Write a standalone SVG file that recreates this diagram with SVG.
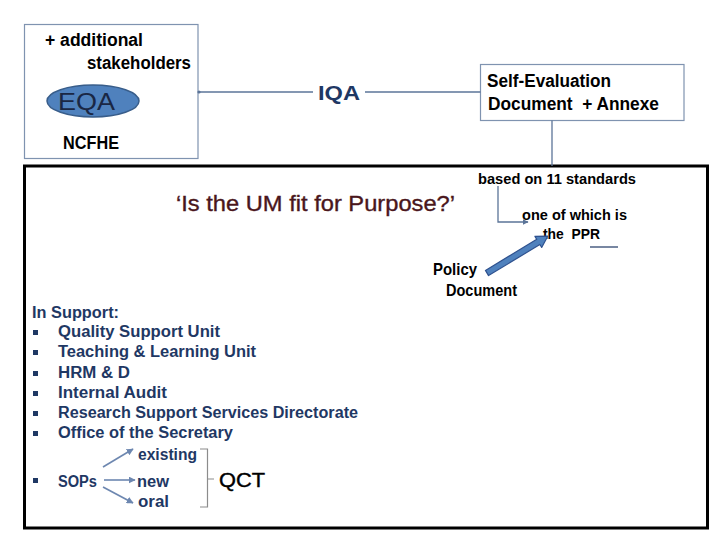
<svg xmlns="http://www.w3.org/2000/svg" width="720" height="540" viewBox="0 0 720 540">
<style>
  .t { font-family: "Liberation Sans", Arial, sans-serif; font-weight: bold; white-space: pre; }
  .blk { fill: #000000; }
  .navy { fill: #1f3864; }
  .box { fill: #ffffff; stroke: #7f93b0; stroke-width: 1.2; }
  .con { fill: none; stroke: #5b7498; stroke-width: 1.3; }
  .sop { fill: none; stroke: #6d87b0; stroke-width: 1.6; }
  .bul { fill: #1f3864; }
</style>
<defs>
  <marker id="ah" viewBox="0 0 10 10" refX="9" refY="5" markerWidth="6" markerHeight="6" orient="auto" markerUnits="userSpaceOnUse">
    <path d="M0,0 L10,5 L0,10 z" fill="#5b7498"/>
  </marker>
  <marker id="ahs" viewBox="0 0 10 10" refX="9" refY="5" markerWidth="7" markerHeight="7" orient="auto" markerUnits="userSpaceOnUse">
    <path d="M0,0 L10,5 L0,10 z" fill="#6d87b0"/>
  </marker>
</defs>
<rect width="720" height="540" fill="#ffffff"/>

<g id="main-box">
  <rect x="24.5" y="166" width="683" height="362" fill="none" stroke="#000000" stroke-width="3"/>
</g>

<g id="ncfhe">
  <rect class="box" x="24.5" y="24.5" width="173.5" height="134"/>
  <text class="t blk" x="45" y="46" font-size="17.5" textLength="98" lengthAdjust="spacingAndGlyphs">+ additional</text>
  <text class="t blk" x="87" y="69" font-size="17.5" textLength="104" lengthAdjust="spacingAndGlyphs">stakeholders</text>
  <ellipse cx="93" cy="101" rx="46" ry="16" fill="#4f81bd" stroke="#385d8a" stroke-width="1.5"/>
  <text x="58" y="110" font-family="'Liberation Sans', Arial, sans-serif" font-size="23" fill="#1a2744" textLength="57" lengthAdjust="spacingAndGlyphs">EQA</text>
  <text class="t blk" x="63" y="149" font-size="17.5" textLength="56" lengthAdjust="spacingAndGlyphs">NCFHE</text>
</g>

<g id="iqa">
  <text class="t navy" x="318" y="100" font-size="21" textLength="42" lengthAdjust="spacingAndGlyphs">IQA</text>
</g>

<g id="sed">
  <rect class="box" x="480.5" y="64.5" width="203.5" height="56"/>
  <text class="t blk" x="487" y="87" font-size="17.5" textLength="124" lengthAdjust="spacingAndGlyphs">Self-Evaluation</text>
  <text class="t blk" x="488" y="110" font-size="17.5" textLength="171" lengthAdjust="spacingAndGlyphs">Document  + Annexe</text>
</g>

<g id="standards">
  <text class="t blk" x="478" y="184" font-size="15" textLength="158" lengthAdjust="spacingAndGlyphs">based on 11 standards</text>
</g>

<g id="ppr">
  <text class="t blk" x="522" y="220" font-size="15" textLength="105" lengthAdjust="spacingAndGlyphs">one of which is</text>
  <text class="t blk" x="543" y="239" font-size="15" textLength="57" lengthAdjust="spacingAndGlyphs">the  PPR</text>
  <line x1="590" y1="247" x2="618" y2="247" stroke="#1f3864" stroke-width="1.2"/>
</g>

<g id="policy">
  <text class="t blk" x="433" y="275" font-size="16.5" textLength="44" lengthAdjust="spacingAndGlyphs">Policy</text>
  <text class="t blk" x="446" y="296" font-size="16.5" textLength="71" lengthAdjust="spacingAndGlyphs">Document</text>
</g>

<g id="question">
  <text x="176" y="211" font-family="'Liberation Sans', Arial, sans-serif" font-size="21.5" fill="#4a161c" stroke="#4a161c" stroke-width="0.35" textLength="279" lengthAdjust="spacingAndGlyphs">‘Is the UM fit for Purpose?’</text>
</g>

<g id="support">
  <text class="t navy" x="32" y="318" font-size="16" textLength="87" lengthAdjust="spacingAndGlyphs">In Support:</text>
  <rect class="bul" x="33" y="330" width="5" height="5"/>
  <text class="t navy" x="58" y="337" font-size="16" textLength="162" lengthAdjust="spacingAndGlyphs">Quality Support Unit</text>
  <rect class="bul" x="33" y="350" width="5" height="5"/>
  <text class="t navy" x="58" y="357" font-size="16" textLength="198" lengthAdjust="spacingAndGlyphs">Teaching &amp; Learning Unit</text>
  <rect class="bul" x="33" y="371" width="5" height="5"/>
  <text class="t navy" x="58" y="378" font-size="16" textLength="72" lengthAdjust="spacingAndGlyphs">HRM &amp; D</text>
  <rect class="bul" x="33" y="391" width="5" height="5"/>
  <text class="t navy" x="58" y="398" font-size="16" textLength="109" lengthAdjust="spacingAndGlyphs">Internal Audit</text>
  <rect class="bul" x="33" y="411" width="5" height="5"/>
  <text class="t navy" x="58" y="418" font-size="16" textLength="300" lengthAdjust="spacingAndGlyphs">Research Support Services Directorate</text>
  <rect class="bul" x="33" y="431" width="5" height="5"/>
  <text class="t navy" x="58" y="438" font-size="16" textLength="175" lengthAdjust="spacingAndGlyphs">Office of the Secretary</text>
</g>

<g id="sops">
  <rect class="bul" x="33" y="478" width="5" height="5"/>
  <text class="t navy" x="58" y="487" font-size="16" textLength="39" lengthAdjust="spacingAndGlyphs">SOPs</text>
  <text class="t navy" x="138" y="460" font-size="16" textLength="59" lengthAdjust="spacingAndGlyphs">existing</text>
  <text class="t navy" x="137" y="487" font-size="16" textLength="32" lengthAdjust="spacingAndGlyphs">new</text>
  <text class="t navy" x="138" y="507" font-size="16" textLength="31" lengthAdjust="spacingAndGlyphs">oral</text>
</g>

<g id="qct">
  <path d="M200,449 L207.5,449 L207.5,507 L200,507 M207.5,479 L214,479" fill="none" stroke="#8c8c8c" stroke-width="1.2"/>
  <text x="219" y="487" font-family="'Liberation Sans', Arial, sans-serif" font-size="21" fill="#000000" stroke="#000000" stroke-width="0.4" textLength="46" lengthAdjust="spacingAndGlyphs">QCT</text>
</g>

<g id="connectors">
  <line class="con" x1="198" y1="92" x2="313" y2="92"/>
  <circle cx="199" cy="92" r="1.6" fill="#5b7498"/>
  <line class="con" x1="365" y1="92" x2="480.5" y2="92"/>
  <line class="con" x1="552" y1="120.5" x2="552" y2="166"/>
  <polyline class="con" points="498,186 498,222 528,222" marker-end="url(#ah)"/>
  <g transform="translate(487,273) rotate(-31.2)">
    <polygon points="0,-3 60,-3 60,-6.5 71,0 60,6.5 60,3 0,3" fill="#4f81bd" stroke="#2f528f" stroke-width="1.2" stroke-linejoin="round"/>
  </g>
  <line class="sop" x1="103" y1="467" x2="133" y2="449" marker-end="url(#ahs)"/>
  <line class="sop" x1="104" y1="480" x2="135" y2="480" marker-end="url(#ahs)"/>
  <line class="sop" x1="103" y1="487" x2="133" y2="503" marker-end="url(#ahs)"/>
</g>
</svg>
